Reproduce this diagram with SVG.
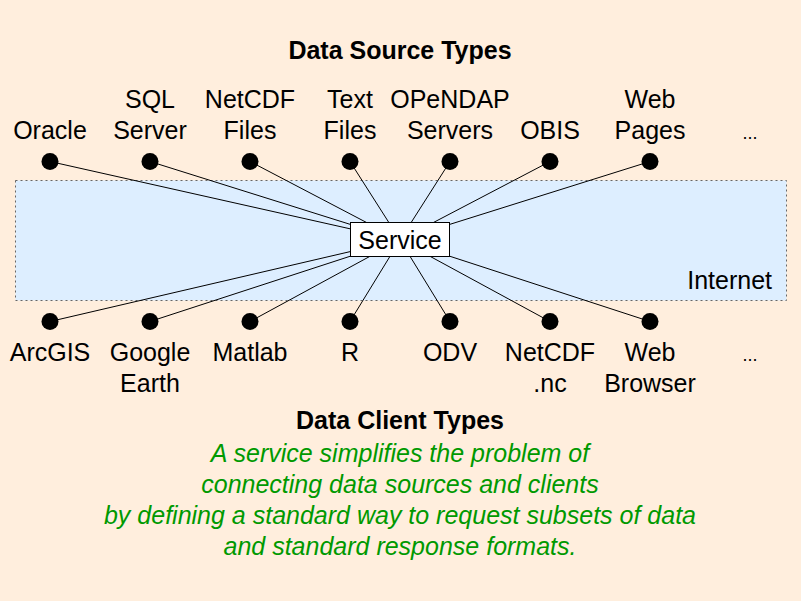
<svg xmlns="http://www.w3.org/2000/svg" width="801" height="601" viewBox="0 0 801 601">
<style>
text{font-family:"Liberation Sans",Arial,sans-serif;font-size:25px;fill:#000;text-anchor:middle}
.title{font-weight:bold}
.note{font-style:italic;fill:#009900}
.dot{fill:#000}
.conn line{stroke:#000;stroke-width:1}
</style>
<rect x="0" y="0" width="801" height="601" fill="#FFEEDD"/>
<g id="internet">
<rect x="15.5" y="180.5" width="771" height="120" fill="#DDEEFF" stroke="#666" stroke-width="1" stroke-dasharray="2,3"/>
<text x="772" y="289" style="text-anchor:end">Internet</text>
</g>
<text class="title" x="400" y="59">Data Source Types</text>
<text class="title" x="400" y="429">Data Client Types</text>
<g class="conn" id="connectors">
<line x1="50" y1="161.5" x2="400" y2="240"/>
<line x1="150" y1="161.5" x2="400" y2="240"/>
<line x1="250" y1="161.5" x2="400" y2="240"/>
<line x1="350" y1="161.5" x2="400" y2="240"/>
<line x1="450" y1="161.5" x2="400" y2="240"/>
<line x1="550" y1="161.5" x2="400" y2="240"/>
<line x1="650" y1="161.5" x2="400" y2="240"/>
<line x1="50" y1="321.5" x2="400" y2="240"/>
<line x1="150" y1="321.5" x2="400" y2="240"/>
<line x1="250" y1="321.5" x2="400" y2="240"/>
<line x1="350" y1="321.5" x2="400" y2="240"/>
<line x1="450" y1="321.5" x2="400" y2="240"/>
<line x1="550" y1="321.5" x2="400" y2="240"/>
<line x1="650" y1="321.5" x2="400" y2="240"/>
</g>
<g id="service">
<rect x="350.5" y="222.5" width="99" height="34" fill="#fff" stroke="#000" stroke-width="1"/>
<text x="400" y="249">Service</text>
</g>
<g id="src-oracle"><circle class="dot" cx="50" cy="161.5" r="8.5"/><text x="50" y="139">Oracle</text></g>
<g id="src-sqlserver"><circle class="dot" cx="150" cy="161.5" r="8.5"/><text x="150" y="108">SQL</text><text x="150" y="139">Server</text></g>
<g id="src-netcdf"><circle class="dot" cx="250" cy="161.5" r="8.5"/><text x="250" y="108">NetCDF</text><text x="250" y="139">Files</text></g>
<g id="src-text"><circle class="dot" cx="350" cy="161.5" r="8.5"/><text x="350" y="108">Text</text><text x="350" y="139">Files</text></g>
<g id="src-opendap"><circle class="dot" cx="450" cy="161.5" r="8.5"/><text x="450" y="108">OPeNDAP</text><text x="450" y="139">Servers</text></g>
<g id="src-obis"><circle class="dot" cx="550" cy="161.5" r="8.5"/><text x="550" y="139">OBIS</text></g>
<g id="src-web"><circle class="dot" cx="650" cy="161.5" r="8.5"/><text x="650" y="108">Web</text><text x="650" y="139">Pages</text></g>
<g id="src-more"><text x="750" y="139" style="font-size:18px">...</text></g>
<g id="cl-arcgis"><circle class="dot" cx="50" cy="321.5" r="8.5"/><text x="50" y="361">ArcGIS</text></g>
<g id="cl-google"><circle class="dot" cx="150" cy="321.5" r="8.5"/><text x="150" y="361">Google</text><text x="150" y="392">Earth</text></g>
<g id="cl-matlab"><circle class="dot" cx="250" cy="321.5" r="8.5"/><text x="250" y="361">Matlab</text></g>
<g id="cl-r"><circle class="dot" cx="350" cy="321.5" r="8.5"/><text x="350" y="361">R</text></g>
<g id="cl-odv"><circle class="dot" cx="450" cy="321.5" r="8.5"/><text x="450" y="361">ODV</text></g>
<g id="cl-netcdf"><circle class="dot" cx="550" cy="321.5" r="8.5"/><text x="550" y="361">NetCDF</text><text x="550" y="392">.nc</text></g>
<g id="cl-browser"><circle class="dot" cx="650" cy="321.5" r="8.5"/><text x="650" y="361">Web</text><text x="650" y="392">Browser</text></g>
<g id="cl-more"><text x="750" y="361" style="font-size:18px">...</text></g>
<g id="note">
<text class="note" x="400" y="462">A service simplifies the problem of</text>
<text class="note" x="400" y="493">connecting data sources and clients</text>
<text class="note" x="400" y="524">by defining a standard way to request subsets of data</text>
<text class="note" x="400" y="555">and standard response formats.</text>
</g>
</svg>
